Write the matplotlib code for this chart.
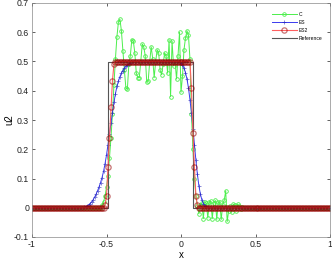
import matplotlib
matplotlib.use("Agg")
import matplotlib.pyplot as plt
import numpy as np

plt.rcParams["axes.unicode_minus"] = False
plt.rcParams["font.family"] = "Liberation Sans"

# grid
x = np.round(np.linspace(-1, 1, 201), 2)
dx = 0.01

# scheme C (oscillating)
c_left_start = -0.53
c_left = [0.01, 0.02, 0.04, 0.07, 0.11, 0.17, 0.24, 0.32, 0.42, 0.51,
          0.585, 0.635, 0.645, 0.605, 0.535, 0.47, 0.41, 0.405, 0.49, 0.52,
          0.575, 0.57, 0.53, 0.46, 0.445, 0.445, 0.50, 0.56, 0.55, 0.52,
          0.43, 0.435, 0.50, 0.55, 0.51, 0.445, 0.50, 0.54, 0.53, 0.47,
          0.455, 0.49, 0.53, 0.52, 0.46, 0.575, 0.38, 0.57, 0.485, 0.50,
          0.44, 0.52, 0.60, 0.395, 0.45, 0.54, 0.58, 0.605, 0.59, 0.51,
          0.32, 0.20, 0.10, 0.04]
c_right_start = 0.11
c_right = [0.005, -0.02, 0.01, 0.015, -0.037, 0.02, 0.015, -0.035, 0.02, 0.022,
           -0.037, 0.015, 0.025, -0.04, 0.02, 0.018, -0.04, 0.01, 0.025, 0.058,
           -0.047, -0.01, 0.005, -0.015, 0.012, 0.01, -0.01, 0.012, 0.005, -0.005,
           0.003, 0.0]

# scheme ES (smeared)
es_left_start = -0.65
es_left = [0.001, 0.003, 0.006, 0.010, 0.014, 0.020, 0.027, 0.036, 0.046, 0.058,
           0.071, 0.086, 0.103, 0.124, 0.150, 0.180, 0.215, 0.252, 0.29, 0.325,
           0.36, 0.39, 0.415, 0.433, 0.448, 0.46, 0.469, 0.477, 0.483, 0.488,
           0.492, 0.495, 0.497, 0.498, 0.499]
es_right_start = -0.02
es_right = [0.499, 0.497, 0.494, 0.488, 0.478, 0.462, 0.44, 0.41, 0.37, 0.325,
            0.27, 0.215, 0.163, 0.115, 0.075, 0.047, 0.027, 0.014, 0.007, 0.003,
            0.001]

# scheme ES2 (sharp)
es2_left_start = -0.51
es2_left = [0.01, 0.04, 0.14, 0.24, 0.345, 0.435, 0.49]
es2_right_start = 0.07
es2_right = [0.41, 0.255, 0.14, 0.04, 0.01]

# exact solution
ref_x = [-1, -0.49, -0.49, 0.08, 0.08, 1]
ref_u = [0, 0, 0.5, 0.5, 0, 0]


def assemble(left_start, left_vals, right_start, right_vals):
    u = np.zeros_like(x)
    i0 = int(round((left_start + 1) / dx))
    i1 = i0 + len(left_vals)
    j0 = int(round((right_start + 1) / dx))
    u[i1:j0] = 0.5
    u[i0:i1] = left_vals
    u[j0:j0 + len(right_vals)] = right_vals
    return u


u_c = assemble(c_left_start, c_left, c_right_start, c_right)
u_es = assemble(es_left_start, es_left, es_right_start, es_right)
u_es2 = assemble(es2_left_start, es2_left, es2_right_start, es2_right)

fig = plt.figure(figsize=(3.32, 2.65), dpi=100)
ax = fig.add_axes([32 / 332, 28 / 265, 298 / 332, 234 / 265])

ax.plot(x, u_c, "-o", color="#4cee4c", lw=0.7, ms=2.6, mfc="none",
        mew=0.6, label="C")
ax.plot(x, u_es, "-+", color="#3a3aee", lw=0.7, ms=2.6, mew=0.6,
        mec=(0.1, 0.1, 0.7, 0.6), label="ES")
ax.plot(ref_x, ref_u, "-", color="#555555", lw=0.8, label="Reference")
ax.plot(x, u_es2, "-o", color="#ff6060", lw=0.8, ms=3.8, mfc="none",
        mew=0.9, mec=(0.6, 0.0, 0.0, 0.55), label="ES2")

# legend order as in the original
h, l = ax.get_legend_handles_labels()
order = [0, 1, 3, 2]
ax.legend([h[i] for i in order], [l[i] for i in order],
          loc="upper right", bbox_to_anchor=(0.985, 0.975), frameon=False,
          fontsize=3.6, handlelength=5, handletextpad=0.4, labelspacing=0.6,
          borderaxespad=0.2)

ax.set_xlim(-1, 1)
ax.set_ylim(-0.1, 0.7)
ax.set_xticks([-1, -0.5, 0, 0.5, 1])
ax.set_xticklabels(["-1", "-0.5", "0", "0.5", "1"])
ax.set_yticks(np.arange(-0.1, 0.71, 0.1))
ax.set_yticklabels(["-0.1", "0", "0.1", "0.2", "0.3", "0.4", "0.5", "0.6", "0.7"])
ax.tick_params(direction="in", top=True, right=True, length=2, width=0.5,
               labelsize=6.3, pad=2, colors="#222222")
for s in ax.spines.values():
    s.set_linewidth(0.5)
    s.set_color("#888888")

ax.set_xlabel("x", fontsize=7, labelpad=1)
ax.set_ylabel("u2", fontsize=7, labelpad=0)

fig.savefig("out.png", dpi=100)
